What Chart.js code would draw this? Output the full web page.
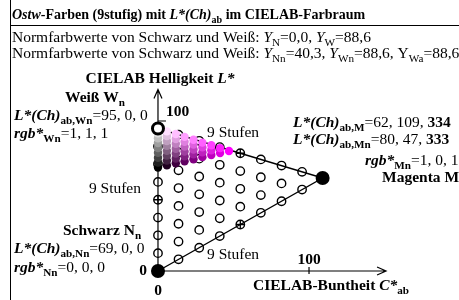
<!DOCTYPE html>
<html>
<head>
<meta charset="utf-8">
<script src="https://cdn.jsdelivr.net/npm/chart.js@4/dist/chart.umd.min.js"></script>
<style>
  html, body { margin: 0; padding: 0; background: #fff; }
  #wrap { width: 459px; height: 300px; }
</style>
</head>
<body>
<div id="wrap"><canvas id="ostw" width="459" height="300"></canvas></div>
<script>
// Ostwald grid N - W - M (open circles), C*ab / L*
var gridC = [
    0, 13.6, 27.3, 40.9, 54.5, 68.1, 81.8, 95.4, 109,
    0, 13.6, 27.3, 40.9, 54.5, 68.1, 81.8, 95.4,
    0, 13.6, 27.3, 40.9, 54.5, 68.1, 81.8,
    0, 13.6, 27.3, 40.9, 54.5, 68.1,
    0, 13.6, 27.3, 40.9, 54.5,
    0, 13.6, 27.3, 40.9,
    0, 13.6, 27.3,
    0, 13.6,
    0
];
var gridL = [
    0, 7.8, 15.5, 23.3, 31, 38.8, 46.5, 54.3, 62,
    11.9, 19.6, 27.4, 35.1, 42.9, 50.6, 58.4, 66.1,
    23.8, 31.5, 39.3, 47, 54.8, 62.5, 70.3,
    35.6, 43.4, 51.1, 58.9, 66.6, 74.4,
    47.5, 55.3, 63, 70.8, 78.5,
    59.4, 67.1, 74.9, 82.6,
    71.3, 79, 86.8,
    83.1, 90.9,
    95
];
// marked middle steps (circle with cross)
var crossC = [0, 54.5, 54.5];
var crossL = [47.5, 31, 78.5];

// Nn - Wn - Mn grid (coloured dots)
var dotC = [
    0, 5.9, 11.8, 17.6, 23.5, 29.4, 35.3, 41.1, 47,
    0, 5.9, 11.8, 17.6, 23.5, 29.4, 35.3, 41.1,
    0, 5.9, 11.8, 17.6, 23.5, 29.4, 35.3,
    0, 5.9, 11.8, 17.6, 23.5, 29.4,
    0, 5.9, 11.8, 17.6, 23.5,
    0, 5.9, 11.8, 17.6,
    0, 5.9, 11.8,
    0, 5.9,
    0
];
var dotL = [
    69, 70.4, 71.8, 73.1, 74.5, 75.9, 77.3, 78.6, 80,
    72.3, 73.6, 75, 76.4, 77.8, 79.1, 80.5, 81.9,
    75.5, 76.9, 78.3, 79.6, 81, 82.4, 83.8,
    78.8, 80.1, 81.5, 82.9, 84.3, 85.6,
    82, 83.4, 84.8, 86.1, 87.5,
    85.3, 86.6, 88, 89.4,
    88.5, 89.9, 91.3,
    91.8, 93.1,
    95
];
// rgb* of the coloured dots (0..1)
var dotR = [
    0, .125, .25, .375, .5, .625, .75, .875, 1,
    .125, .25, .375, .5, .625, .75, .875, 1,
    .25, .375, .5, .625, .75, .875, 1,
    .375, .5, .625, .75, .875, 1,
    .5, .625, .75, .875, 1,
    .625, .75, .875, 1,
    .75, .875, 1,
    .875, 1,
    1
];
var dotG = [
    0, 0, 0, 0, 0, 0, 0, 0, 0,
    .125, .125, .125, .125, .125, .125, .125, .125,
    .25, .25, .25, .25, .25, .25, .25,
    .375, .375, .375, .375, .375, .375,
    .5, .5, .5, .5, .5,
    .625, .625, .625, .625,
    .75, .75, .75,
    .875, .875,
    1
];
var dotB = dotR;

// black and white corners
var cornerC = [0, 109];
var cornerL = [0, 62];
var whiteC = [0];
var whiteL = [95];

function pts(cs, ls) {
    return cs.map(function (c, i) { return { x: c, y: ls[i] }; });
}
var dotColors = dotR.map(function (r, i) {
    return 'rgb(' + Math.round(r * 255) + ',' + Math.round(dotG[i] * 255) + ',' + Math.round(dotB[i] * 255) + ')';
});

var FONT = '"Liberation Serif", "Times New Roman", serif';

// draw a line of mixed text: [text, style, sub]
function rich(ctx, x, y, parts, size, align) {
    var w = 0;
    parts.forEach(function (p) {
        ctx.font = (p[1] || '') + ' ' + (p[2] ? size * 0.72 : size) + 'px ' + FONT;
        w += ctx.measureText(p[0]).width;
    });
    if (align === 'center') x -= w / 2;
    if (align === 'right') x -= w;
    ctx.textBaseline = 'alphabetic';
    ctx.fillStyle = '#000';
    parts.forEach(function (p) {
        var s = p[2] ? size * 0.72 : size;
        ctx.font = (p[1] || '') + ' ' + s + 'px ' + FONT;
        ctx.fillText(p[0], x, y + (p[2] ? size * 0.28 : 0));
        x += ctx.measureText(p[0]).width;
    });
}

var frame = {
    id: 'frame',
    beforeDatasetsDraw: function (chart) {
        var ctx = chart.ctx, xs = chart.scales.x, ys = chart.scales.y;
        var x0 = xs.getPixelForValue(0), y0 = ys.getPixelForValue(0);
        var xe = xs.getPixelForValue(151), ye = ys.getPixelForValue(121);
        ctx.save();
        ctx.strokeStyle = '#000';
        ctx.lineWidth = 1;
        // frame
        ctx.beginPath();
        ctx.moveTo(10.5, 0); ctx.lineTo(10.5, 300);
        ctx.moveTo(10, 25.5); ctx.lineTo(459, 25.5);
        ctx.stroke();
        // axes
        ctx.lineWidth = 1.2;
        ctx.beginPath();
        ctx.moveTo(x0, y0); ctx.lineTo(xe, y0);
        ctx.moveTo(xe - 9, y0 - 4); ctx.lineTo(xe, y0); ctx.lineTo(xe - 9, y0 + 4);
        ctx.moveTo(x0, y0); ctx.lineTo(x0, ye);
        ctx.moveTo(x0 - 4, ye + 9); ctx.lineTo(x0, ye); ctx.lineTo(x0 + 4, ye + 9);
        var t = xs.getPixelForValue(100);
        ctx.moveTo(t, y0 - 4); ctx.lineTo(t, y0 + 3);
        var u = ys.getPixelForValue(100);
        ctx.moveTo(x0, u); ctx.lineTo(x0 + 8, u);
        ctx.stroke();
        ctx.restore();
    },
    afterDraw: function (chart) {
        var ctx = chart.ctx, S = 15.5;
        ctx.save();
        rich(ctx, 12, 19, [['Ostw', 'italic bold'], ['-Farben (9stufig) mit ', 'bold'], ['L*(Ch)', 'italic bold'], ['ab', 'bold', 1], [' im CIELAB-Farbraum', 'bold']], 14);
        rich(ctx, 12, 42, [['Normfarbwerte von Schwarz und Weiß: '], ['Y', 'italic'], ['N', '', 1], ['=0,0, '], ['Y', 'italic'], ['W', '', 1], ['=88,6']], S);
        rich(ctx, 12, 58, [['Normfarbwerte von Schwarz und Weiß: '], ['Y', 'italic'], ['Nn', '', 1], ['=40,3, '], ['Y', 'italic'], ['Wn', '', 1], ['=88,6, Y'], ['Wa', '', 1], ['=88,6.']], S);

        rich(ctx, 160, 83, [['CIELAB Helligkeit ', 'bold'], ['L*', 'italic bold']], S, 'center');
        rich(ctx, 65, 102, [['Weiß W', 'bold'], ['n', 'bold', 1]], S);
        rich(ctx, 14, 120, [['L*(Ch)', 'italic bold'], ['ab,Wn', 'bold', 1], ['=95, 0, 0']], S);
        rich(ctx, 14, 138, [['rgb*', 'italic bold'], ['Wn', 'bold', 1], ['=1, 1, 1']], S);
        rich(ctx, 166, 116, [['100', 'bold']], S);

        rich(ctx, 141, 193, [['9 Stufen']], S, 'right');
        rich(ctx, 207, 137, [['9 Stufen']], S);
        rich(ctx, 207, 259, [['9 Stufen']], S);

        rich(ctx, 63, 235, [['Schwarz N', 'bold'], ['n', 'bold', 1]], S);
        rich(ctx, 14, 253, [['L*(Ch)', 'italic bold'], ['ab,Nn', 'bold', 1], ['=69, 0, 0']], S);
        rich(ctx, 14, 272, [['rgb*', 'italic bold'], ['Nn', 'bold', 1], ['=0, 0, 0']], S);
        rich(ctx, 147, 275, [['0', 'bold']], S, 'right');
        rich(ctx, 158, 295, [['0', 'bold']], S, 'center');
        rich(ctx, 309, 264, [['100', 'bold']], S, 'center');
        rich(ctx, 253, 290, [['CIELAB-Buntheit ', 'bold'], ['C*', 'italic bold'], ['ab', 'bold', 1]], S);

        rich(ctx, 293, 127, [['L*(Ch)', 'italic bold'], ['ab,M', 'bold', 1], ['=62, 109, '], ['334', 'bold']], S);
        rich(ctx, 293, 144, [['L*(Ch)', 'italic bold'], ['ab,Mn', 'bold', 1], ['=80, 47, '], ['333', 'bold']], S);
        rich(ctx, 365, 165, [['rgb*', 'italic bold'], ['Mn', 'bold', 1], ['=1, 0, 1']], S);
        rich(ctx, 382, 182, [['Magenta M', 'bold'], ['n', 'bold', 1]], S);
        ctx.restore();
    }
};

new Chart(document.getElementById('ostw'), {
    type: 'scatter',
    data: {
        datasets: [
            {
                data: pts(whiteC, whiteL),
                pointRadius: 5.5, pointBorderWidth: 3,
                pointBackgroundColor: '#fff', pointBorderColor: '#000'
            },
            {
                data: pts(cornerC, cornerL),
                pointRadius: 7, pointBorderWidth: 0,
                pointBackgroundColor: '#000'
            },
            {
                data: pts(dotC, dotL),
                pointRadius: 4.2, pointBorderWidth: 0,
                pointBackgroundColor: dotColors
            },
            {
                data: pts(crossC, crossL),
                pointStyle: 'cross', pointRadius: 4.3, pointBorderWidth: 1.3,
                pointBorderColor: '#000'
            },
            {
                data: pts(gridC, gridL),
                pointRadius: 4.2, pointBorderWidth: 1.4,
                pointBackgroundColor: 'rgba(0,0,0,0)', pointBorderColor: '#000'
            },
            {
                type: 'line',
                data: [{ x: 0, y: 0 }, { x: 109, y: 62 }, { x: 0, y: 95 }],
                borderColor: '#000', borderWidth: 1.4, pointRadius: 0, fill: false, tension: 0
            }
        ]
    },
    options: {
        responsive: false,
        animation: false,
        devicePixelRatio: 1,
        layout: { padding: 0, autoPadding: false },
        plugins: { legend: { display: false }, tooltip: { enabled: false } },
        scales: {
            x: { type: 'linear', display: false, min: -104.6, max: 199.3 },
            y: { type: 'linear', display: false, min: -19.33, max: 180.67 }
        }
    },
    plugins: [frame]
});
</script>
</body>
</html>
